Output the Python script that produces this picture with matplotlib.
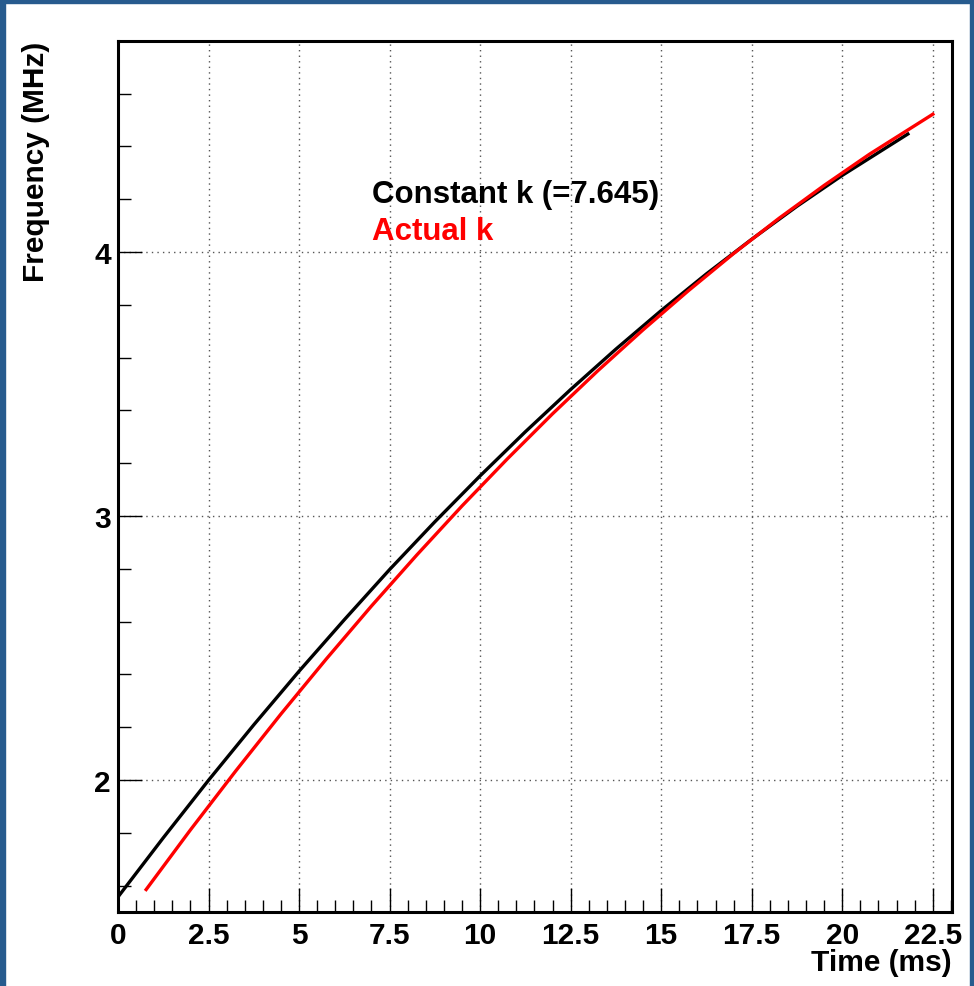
import numpy as np
import matplotlib
matplotlib.use("Agg")
import matplotlib.pyplot as plt
from matplotlib.patches import Rectangle
from matplotlib.ticker import MultipleLocator, FixedLocator

# frequency sweep: constant k vs actual k
t_const = [0.0, 1.25, 2.5, 3.75, 5.0, 6.25, 7.5, 8.75, 10.0, 11.25, 12.5,
           13.75, 15.0, 16.25, 17.5, 18.75, 20.0, 21.85]
f_const = [1.557, 1.781, 1.999, 2.209, 2.412, 2.607, 2.797, 2.978, 3.152, 3.319,
           3.479, 3.632, 3.778, 3.917, 4.048, 4.173, 4.290, 4.450]

t_actual = [0.75, 2.0, 3.25, 4.5, 5.75, 7.0, 8.25, 9.5, 10.75, 12.0, 13.25,
            14.5, 15.75, 17.0, 18.25, 19.5, 20.75, 22.54]
f_actual = [1.580, 1.811, 2.034, 2.250, 2.458, 2.659, 2.852, 3.038, 3.216, 3.387,
            3.550, 3.705, 3.853, 3.994, 4.127, 4.252, 4.370, 4.525]

x_ticks = [0, 2.5, 5, 7.5, 10, 12.5, 15, 17.5, 20, 22.5]
x_labels = ["0", "2.5", "5", "7.5", "10", "12.5", "15", "17.5", "20", "22.5"]
y_ticks = [2, 3, 4]
y_labels = ["2", "3", "4"]

plt.rcParams['font.family'] = ['Liberation Sans', 'DejaVu Sans']
plt.rcParams['font.weight'] = 'bold'

fig = plt.figure(figsize=(9.74, 9.87), dpi=100)
ax = fig.add_axes([118/974, 1 - 913/987, (952 - 118)/974, (913 - 41.7)/987])

ax.plot(t_const, f_const, color='black', lw=2.4, solid_capstyle='butt', zorder=3)
ax.plot(t_actual, f_actual, color='#ff0000', lw=2.4, solid_capstyle='butt', zorder=4)

ax.set_xlim(0, 23.03)
ax.set_ylim(1.5, 4.8)

ax.xaxis.set_major_locator(FixedLocator(x_ticks))
ax.set_xticklabels(x_labels)
ax.xaxis.set_minor_locator(MultipleLocator(0.5))
ax.yaxis.set_major_locator(FixedLocator(y_ticks))
ax.set_yticklabels(y_labels)
ax.yaxis.set_minor_locator(MultipleLocator(0.2))

ax.tick_params(which='major', direction='in', length=17, width=1.0,
               labelsize=21.5, top=False, right=False)
ax.tick_params(axis='x', which='major', pad=6.5)
ax.tick_params(axis='y', which='major', pad=5)
ax.tick_params(which='minor', direction='in', length=9, width=1.0,
               top=False, right=False)
for lab in ax.get_xticklabels() + ax.get_yticklabels():
    lab.set_fontweight('bold')

ax.grid(True, which='major', color='#555555', linestyle=(0, (1, 3)), lw=1.0)
for sp in ax.spines.values():
    sp.set_linewidth(2.2)

ax.set_xlabel("Time (ms)", fontsize=21.5, fontweight='bold', loc='right')
ax.xaxis.set_label_coords(1.0, -0.041)
ax.set_ylabel("Frequency (MHz)", fontsize=21.5, fontweight='bold', loc='top')
ax.yaxis.set_label_coords(-0.0815, 1.0)

ax.text(7.01, 4.188, "Constant k (=7.645)", color='black', fontsize=22.5,
        fontweight='bold', va='baseline', ha='left')
ax.text(7.01, 4.048, "Actual k", color='#ff0000', fontsize=22.5,
        fontweight='bold', va='baseline', ha='left')

# blue frame round the canvas
blue = '#275b8e'
fig.patches.append(Rectangle((0, 0), 5/974, 1, transform=fig.transFigure, color=blue))
fig.patches.append(Rectangle((0, 1 - 4/987), 1, 4/987, transform=fig.transFigure, color=blue))
fig.patches.append(Rectangle((1 - 4/974, 0), 4/974, 1, transform=fig.transFigure, color=blue))

fig.savefig("out.png", dpi=100)
